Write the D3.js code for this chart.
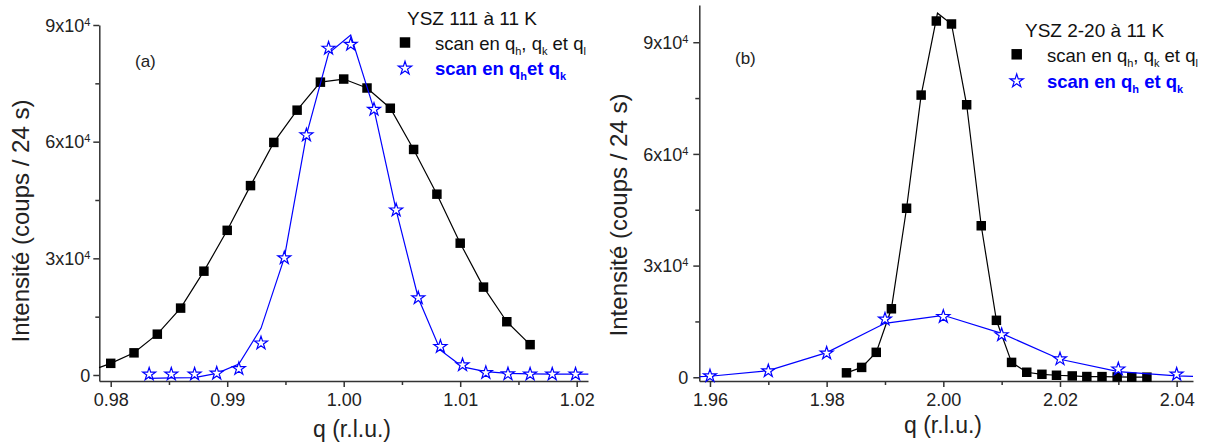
<!DOCTYPE html>
<html><head><meta charset="utf-8">
<script src="https://cdn.jsdelivr.net/npm/d3@7"></script>
<style>body{margin:0;background:#fff}svg{display:block}text{font-family:"Liberation Sans",Arial,sans-serif}</style>
</head><body><svg id="c" width="1214" height="447"></svg>
<script>
// ---------- Panel (a): YSZ 111 ----------
const qA_sq = [0.980,0.982,0.984,0.986,0.988,0.990,0.992,0.994,0.996,0.998,1.000,1.002,1.004,1.006,1.008,1.010,1.012,1.014,1.016];
const iA_sq = [3000,5700,10500,17200,26700,37200,48700,59800,68100,75300,76100,73800,68600,58000,46500,33900,22600,13700,7800];
const qA_sqLine = [0.979,0.980,0.982,0.984,0.986,0.988,0.990,0.992,0.994,0.996,0.998,1.000,1.002,1.004,1.006,1.008,1.010,1.012,1.014,1.016];
const iA_sqLine = [1900,3000,5700,10500,17200,26700,37200,48700,59800,68100,75300,76100,73800,68600,58000,46500,33900,22600,13700,7800];
const qA_st = [0.9833,0.9852,0.9872,0.9891,0.9910,0.9929,0.9949,0.9968,0.9987,1.0006,1.0026,1.0045,1.0064,1.0083,1.0102,1.0122,1.0141,1.0160,1.0179,1.0199];
const iA_st = [200,200,200,430,1600,8200,30100,61700,84000,85000,68300,42400,19800,7300,2600,600,250,200,200,200];
const qA_stLine = [0.9833,0.9852,0.9872,0.9891,0.9910,0.9929,0.9949,0.9968,0.9987,1.0006,1.0026,1.0045,1.0064,1.0083,1.0102,1.0122,1.0141,1.0160,1.0179,1.0199,1.0210];
const iA_stLine = [-850,-750,-650,430,2800,12000,30100,61700,82700,87400,68300,42400,19800,6400,2100,850,430,300,250,250,250];
const xTicksA = [0.98,0.99,1.00,1.01,1.02];
const xMinorA = [0.985,0.995,1.005,1.015];

// ---------- Panel (b): YSZ 2-20 ----------
const qB_sq = [1.9834,1.9860,1.9885,1.9911,1.9937,1.9962,1.9988,2.0014,2.0040,2.0065,2.0091,2.0117,2.0143,2.0169,2.0194,2.0221,2.0246,2.0272,2.0298,2.0323,2.0349];
const iB_sq = [1200,2650,6700,18400,45400,75800,95700,94900,73200,40700,15300,4000,1350,800,540,360,200,180,100,30,30];
const qB_sqLine = [1.9834,1.9860,1.9885,1.9911,1.9937,1.9962,1.9990,2.0014,2.0040,2.0065,2.0091,2.0117,2.0143,2.0169,2.0194,2.0221,2.0246,2.0272,2.0298,2.0323,2.0349];
const iB_sqLine = [1200,2650,6700,18400,45400,75800,97800,94900,73200,40700,15300,4000,1350,800,540,360,200,180,100,30,30];
const qB_st = [1.96,1.97,1.98,1.99,2.00,2.01,2.02,2.03,2.04];
const iB_st = [360,1700,6450,15600,16300,11400,4900,2200,800];
const qB_stLine = [1.9582,1.96,1.97,1.98,1.99,2.00,2.01,2.02,2.03,2.04,2.0428];
const iB_stLine = [150,270,1790,6630,14500,16650,11800,4830,1520,360,250];
const xTicksB = [1.96,1.98,2.00,2.02,2.04];
const xMinorB = [1.97,1.99,2.01,2.03];

const yTicks = [0,30000,60000,90000];
const yMinor = [15000,45000,75000];
const yTickLabels = ["0","3x10","6x10","9x10"];

const BLUE = "#0000ff", AXIS = "#333";
const svg = d3.select("#c");

function panel(o) {
  const x = d3.scaleLinear(o.xd, o.xr);
  const y = d3.scaleLinear(o.yd, o.yr);
  const g = svg.append("g");
  const y0 = o.yr[0], x0 = o.xr[0];

  // x axis
  g.append("g").attr("transform", `translate(0,${y0})`)
    .call(d3.axisBottom(x).tickValues(o.xMinor).tickSize(4).tickFormat(""))
    .call(s => s.select(".domain").remove());
  const ax = g.append("g").attr("transform", `translate(0,${y0})`)
    .call(d3.axisBottom(x).tickValues(o.xTicks).tickSize(6).tickSizeOuter(0).tickFormat(d3.format(".2f")));
  ax.selectAll("text").attr("y", o.xLabY).attr("dy", 0).style("font-size", "18px").attr("fill", "#222");

  // y axis
  g.append("g").attr("transform", `translate(${x0},0)`)
    .call(d3.axisLeft(y).tickValues(yMinor).tickSize(4).tickFormat(""))
    .call(s => s.select(".domain").remove());
  const ay = g.append("g").attr("transform", `translate(${x0},0)`)
    .call(d3.axisLeft(y).tickValues(yTicks).tickSize(6).tickSizeOuter(0).tickFormat(""));
  ay.selectAll(".tick").each(function(d, i) {
    const t = d3.select(this).append("text").attr("x", o.yLabX).attr("dy", "0.35em")
      .attr("text-anchor", "end").attr("fill", "#222").style("font-size", "18px");
    t.append("tspan").text(yTickLabels[i]);
    if (d !== 0) t.append("tspan").text("4").attr("dy", "-0.55em").style("font-size", "11px");
  });
  [ax, ay].forEach(a => {
    a.selectAll("path,line").attr("stroke", AXIS).attr("stroke-width", 1.5);
  });
  g.selectAll(".tick line").attr("stroke", AXIS).attr("stroke-width", 1.5);

  // axis titles
  g.append("text").attr("transform", `translate(${o.yTitleX},${o.yTitleY}) rotate(-90)`)
    .attr("text-anchor", "middle").style("font-size", "24px").attr("fill", "#222")
    .text("Intensité (coups / 24 s)");
  g.append("text").attr("x", o.xTitleX).attr("y", o.xTitleY)
    .attr("text-anchor", "middle").style("font-size", "23px").attr("fill", "#222")
    .text("q (r.l.u.)");

  const line = d3.line().x(d => x(d[0])).y(d => y(d[1]));
  const sqSym = d3.symbol(d3.symbolSquare, 90);
  const stSym = d3.symbol(d3.symbolStar, 52);

  g.append("path").datum(d3.zip(o.sqLineQ, o.sqLineI)).attr("d", line)
    .attr("fill", "none").attr("stroke", "#000").attr("stroke-width", 1.2);
  g.selectAll(".sq").data(d3.zip(o.sqQ, o.sqI)).join("path")
    .attr("transform", d => `translate(${x(d[0])},${y(d[1])})`).attr("d", sqSym).attr("fill", "#000");
  g.append("path").datum(d3.zip(o.stLineQ, o.stLineI)).attr("d", line)
    .attr("fill", "none").attr("stroke", BLUE).attr("stroke-width", 1.2);
  g.selectAll(".st").data(d3.zip(o.stQ, o.stI)).join("path")
    .attr("transform", d => `translate(${x(d[0])},${y(d[1])})`).attr("d", stSym)
    .attr("fill", "#fff").attr("stroke", BLUE).attr("stroke-width", 1.2);

  // panel label
  g.append("text").attr("x", o.lab[0]).attr("y", o.lab[1]).style("font-size", "17px").attr("fill", "#222").text(o.label);

  // legend
  const L = o.leg;
  g.append("text").attr("x", L.tx).attr("y", L.ty).style("font-size", "19px").attr("fill", "#111").text(o.title);
  g.append("path").attr("transform", `translate(${L.sx},${L.s1})`).attr("d", d3.symbol(d3.symbolSquare, 110)).attr("fill", "#000");
  g.append("path").attr("transform", `translate(${L.sx},${L.s2})`).attr("d", d3.symbol(d3.symbolStar, 55))
    .attr("fill", "#fff").attr("stroke", BLUE).attr("stroke-width", 1.2);
  const t1 = g.append("text").attr("x", L.lx).attr("y", L.b1).style("font-size", "18.5px").attr("fill", "#111");
  t1.append("tspan").text("scan en q");
  t1.append("tspan").text("h").attr("dy", 5).style("font-size", "11px");
  t1.append("tspan").text(", q").attr("dy", -5);
  t1.append("tspan").text("k").attr("dy", 5).style("font-size", "11px");
  t1.append("tspan").text(" et q").attr("dy", -5);
  t1.append("tspan").text("l").attr("dy", 5).style("font-size", "11px");
  const t2 = g.append("text").attr("x", L.lx).attr("y", L.b2).style("font-size", "18.5px")
    .style("font-weight", "bold").attr("fill", BLUE);
  t2.append("tspan").text("scan en q");
  t2.append("tspan").text("h").attr("dy", 5).style("font-size", "11px");
  t2.append("tspan").text(o.etText).attr("dy", -5);
  t2.append("tspan").text("k").attr("dy", 5).style("font-size", "11px");
}

panel({
  xd: [0.97902, 1.02097], xr: [99.3, 588], yd: [-1543, 90000], yr: [381, 25],
  xTicks: xTicksA, xMinor: xMinorA, xLabY: 25, yLabX: -9,
  yTitleX: 29, yTitleY: 221, xTitleX: 352, xTitleY: 437,
  sqQ: qA_sq, sqI: iA_sq, sqLineQ: qA_sqLine, sqLineI: iA_sqLine,
  stQ: qA_st, stI: iA_st, stLineQ: qA_stLine, stLineI: iA_stLine,
  label: "(a)", lab: [135, 67], title: "YSZ 111 à 11 K", etText: "et q",
  leg: {tx: 407, ty: 25, sx: 405, s1: 42.5, s2: 68.3, lx: 435, b1: 50, b2: 75}
});
panel({
  xd: [1.95817, 2.0428], xr: [699.3, 1193], yd: [-1000, 100000], yr: [381, 5],
  xTicks: xTicksB, xMinor: xMinorB, xLabY: 25, yLabX: -11,
  yTitleX: 627, yTitleY: 215, xTitleX: 943, xTitleY: 433,
  sqQ: qB_sq, sqI: iB_sq, sqLineQ: qB_sqLine, sqLineI: iB_sqLine,
  stQ: qB_st, stI: iB_st, stLineQ: qB_stLine, stLineI: iB_stLine,
  label: "(b)", lab: [735, 64], title: "YSZ 2-20 à 11 K", etText: " et q",
  leg: {tx: 1025, ty: 36.7, sx: 1016.7, s1: 54.3, s2: 81, lx: 1047, b1: 61.7, b2: 88}
});
</script></body></html>
